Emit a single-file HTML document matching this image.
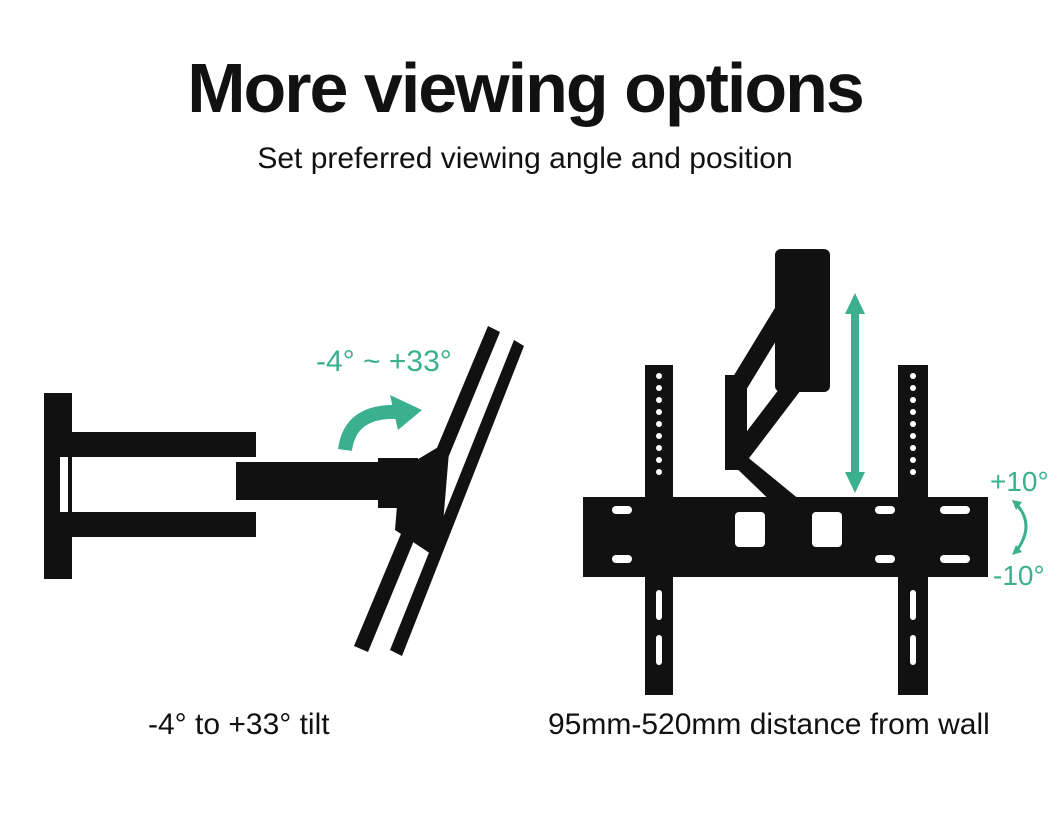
<!DOCTYPE html>
<html><head><style>
body{margin:0;width:1050px;height:814px;background:#fff;overflow:hidden;position:relative;font-family:"Liberation Sans",sans-serif}
.t{position:absolute;left:0;width:1050px;text-align:center;color:#111}
</style></head><body>
<div class="t" style="top:48px;font-size:70px;font-weight:bold;letter-spacing:-2px">More viewing options</div>
<div class="t" style="top:142px;font-size:30px;">Set preferred viewing angle and position</div>
<div style="position:absolute;left:148px;top:708px;font-size:30px;color:#111">-4° to +33° tilt</div>
<div style="position:absolute;left:548px;top:708px;font-size:30px;color:#111">95mm-520mm distance from wall</div>
<div style="position:absolute;left:316px;top:345px;font-size:30px;color:#3bb08f">-4° ~ +33°</div>
<div style="position:absolute;left:990px;top:466px;font-size:28px;color:#3bb08f">+10°</div>
<div style="position:absolute;left:993px;top:560px;font-size:28px;color:#3bb08f">-10°</div>
<svg width="1050" height="814" style="position:absolute;left:0;top:0">
<g fill="#111">
<rect x="44" y="393" width="28" height="186"/>
<rect x="60" y="432" width="196" height="25"/>
<rect x="60" y="512" width="196" height="25"/>
<rect x="236" y="462" width="160" height="38"/>
<rect x="378" y="458" width="40" height="50"/>
<polygon points="488,326 500,332 368,652 354,646"/>
<polygon points="514,340 524,346 402,656 390,650"/>
<polygon points="400,470 450,440 440,560 395,530"/>
<rect x="775" y="249" width="55" height="143" rx="6"/>
<polygon points="795,275 810,285 740,400 725,390"/>
<polygon points="805,355 820,365 740,470 725,460"/>
<rect x="725" y="375" width="22" height="95"/>
<polygon points="728,460 745,455 800,500 780,510"/>
<rect x="583" y="497" width="405" height="80"/>
<rect x="645" y="365" width="28" height="330"/>
<rect x="898" y="365" width="30" height="330"/>
</g>
<g fill="#fff">
<rect x="735" y="512" width="30" height="35" rx="4"/>
<rect x="812" y="512" width="30" height="35" rx="4"/>
<rect x="612" y="506" width="20" height="8" rx="4"/><rect x="612" y="555" width="20" height="8" rx="4"/>
<rect x="875" y="506" width="20" height="8" rx="4"/><rect x="875" y="555" width="20" height="8" rx="4"/>
<rect x="940" y="506" width="30" height="8" rx="4"/><rect x="940" y="555" width="30" height="8" rx="4"/>
<rect x="60" y="457" width="8" height="55"/>
</g>
<g fill="#fff">
<circle cx="659" cy="376" r="3"/><circle cx="659" cy="388" r="3"/><circle cx="659" cy="400" r="3"/><circle cx="659" cy="412" r="3"/><circle cx="659" cy="424" r="3"/><circle cx="659" cy="436" r="3"/><circle cx="659" cy="448" r="3"/><circle cx="659" cy="460" r="3"/><circle cx="659" cy="472" r="3"/>
<circle cx="913" cy="376" r="3"/><circle cx="913" cy="388" r="3"/><circle cx="913" cy="400" r="3"/><circle cx="913" cy="412" r="3"/><circle cx="913" cy="424" r="3"/><circle cx="913" cy="436" r="3"/><circle cx="913" cy="448" r="3"/><circle cx="913" cy="460" r="3"/><circle cx="913" cy="472" r="3"/>
<rect x="656" y="590" width="6" height="30" rx="3"/><rect x="656" y="635" width="6" height="30" rx="3"/>
<rect x="910" y="590" width="6" height="30" rx="3"/><rect x="910" y="635" width="6" height="30" rx="3"/>
</g>
<g fill="#3bb08f" stroke="none">
<rect x="851" y="312" width="8" height="162"/>
<polygon points="855,293 845,314 865,314"/>
<polygon points="855,493 845,472 865,472"/>
<polygon points="390,395 422,410 398,430"/>
</g>
<path d="M345,450 Q350,410 398,412" stroke="#3bb08f" stroke-width="14" fill="none"/>
<path d="M1017,505 Q1035,525 1017,550" stroke="#3bb08f" stroke-width="3" fill="none"/>
<polygon points="1012,500 1022,502 1016,510" fill="#3bb08f"/>
<polygon points="1012,555 1022,552 1016,545" fill="#3bb08f"/>
</svg>
</body></html>
